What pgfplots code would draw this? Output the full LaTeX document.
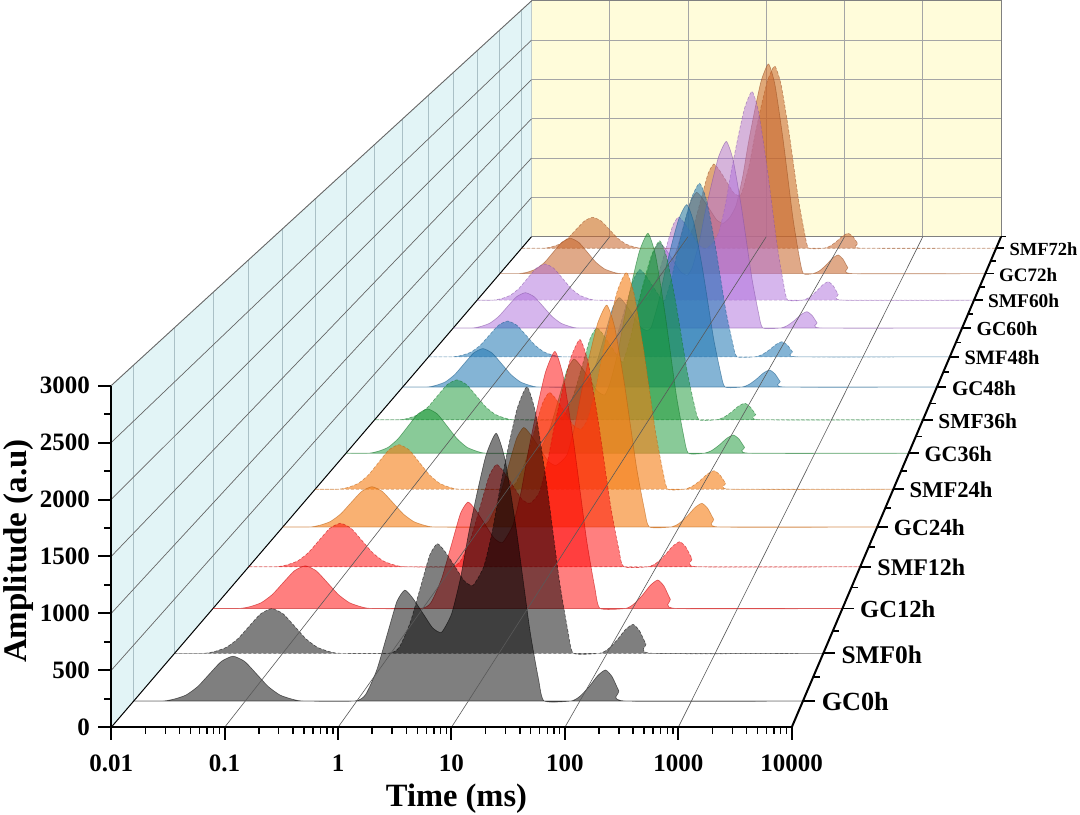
\documentclass[border=0pt]{standalone}
\usepackage{fontspec}
\setmainfont{Liberation Serif}
\usepackage{pgfplots}
\usepackage{pgfplotstable}
\pgfplotsset{compat=1.18}

\definecolor{cK}{RGB}{0,0,0}
\definecolor{cR}{RGB}{255,0,0}
\definecolor{cO}{RGB}{245,125,20}
\definecolor{cG}{RGB}{20,150,50}
\definecolor{cB}{RGB}{31,119,180}
\definecolor{cV}{RGB}{175,110,220}
\definecolor{cN}{RGB}{200,100,40}
\definecolor{wallL}{RGB}{226,244,246}
\definecolor{wallB}{RGB}{255,252,218}
\definecolor{gridL}{RGB}{170,192,198}
\definecolor{gridB}{RGB}{165,165,165}
\tikzset{dsh/.style={dash pattern=on 3bp off 2bp}}

% x column: log10(time / ms), a: amplitude (a.u.)
\pgfplotstableread{
lt a
-2 0
-1.74 0
-1.635 18
-1.53 54
-1.425 130
-1.32 243
-1.215 353
-1.11 400
-1.005 353
-0.90 243
-0.795 130
-0.69 54
-0.585 18
-0.48 0
-0.02 0
0.08 60
0.18 280
0.28 620
0.36 890
0.43 990
0.50 921
0.60 772
0.68 653
0.76 614
0.85 779
0.93 1099
1.00 1482
1.08 1864
1.16 2199
1.25 2390
1.33 2151
1.43 1530
1.55 645
1.63 191
1.68 0
1.92 0
2.00 42
2.08 125
2.16 227
2.23 277
2.29 216
2.35 89
2.41 0
4 0
}\rowA
\pgfplotstableread{
lt a
-2 0
-1.73 0
-1.625 18
-1.52 56
-1.415 134
-1.31 250
-1.205 363
-1.10 412
-0.995 363
-0.89 250
-0.785 134
-0.68 56
-0.575 18
-0.47 0
-0.02 0
0.08 60
0.18 285
0.28 630
0.36 905
0.43 1010
0.50 939
0.60 788
0.68 667
0.76 626
0.86 800
0.94 1129
1.01 1522
1.09 1915
1.17 2259
1.26 2455
1.34 2210
1.44 1571
1.56 663
1.64 196
1.69 0
1.93 0
2.01 40
2.09 120
2.17 219
2.24 267
2.30 208
2.36 85
2.42 0
4 0
}\rowB
\pgfplotstableread{
lt a
-2 0
-1.75 0
-1.645 18
-1.54 55
-1.435 132
-1.33 246
-1.225 357
-1.12 405
-1.015 357
-0.91 246
-0.805 132
-0.70 55
-0.595 18
-0.49 0
-0.02 0
0.08 60
0.18 285
0.28 630
0.36 905
0.43 1010
0.50 939
0.60 788
0.68 667
0.76 626
0.86 795
0.94 1122
1.01 1513
1.09 1903
1.17 2245
1.26 2440
1.34 2196
1.44 1562
1.56 659
1.64 195
1.69 0
1.93 0
2.01 41
2.09 122
2.17 221
2.24 270
2.30 211
2.36 86
2.42 0
4 0
}\rowC
\pgfplotstableread{
lt a
-2 0
-1.73 0
-1.625 19
-1.52 57
-1.415 138
-1.31 258
-1.205 375
-1.10 425
-0.995 375
-0.89 258
-0.785 138
-0.68 57
-0.575 19
-0.47 0
-0.02 0
0.08 60
0.18 280
0.28 620
0.36 890
0.43 1000
0.50 930
0.60 780
0.68 660
0.76 620
0.85 724
0.93 1021
1.00 1376
1.08 1732
1.16 2042
1.25 2220
1.33 1998
1.43 1421
1.55 599
1.63 178
1.68 0
1.92 0
2.00 37
2.08 110
2.16 201
2.23 245
2.29 191
2.35 78
2.41 0
4 0
}\rowD
\pgfplotstableread{
lt a
-2 0
-1.73 0
-1.625 18
-1.52 55
-1.415 132
-1.31 246
-1.205 357
-1.10 405
-0.995 357
-0.89 246
-0.785 132
-0.68 55
-0.575 18
-0.47 0
-0.02 0
0.08 60
0.18 280
0.28 620
0.36 890
0.43 1000
0.50 930
0.60 780
0.68 660
0.76 620
0.87 727
0.95 1026
1.02 1383
1.10 1739
1.18 2052
1.27 2230
1.35 2007
1.45 1427
1.57 602
1.65 178
1.70 0
1.92 0
2.00 36
2.08 107
2.16 195
2.23 238
2.29 186
2.35 76
2.41 0
4 0
}\rowE
\pgfplotstableread{
lt a
-2 0
-1.76 0
-1.655 20
-1.55 62
-1.445 150
-1.34 279
-1.235 406
-1.13 460
-1.025 406
-0.92 279
-0.815 150
-0.71 62
-0.605 20
-0.50 0
-0.02 0
0.08 60
0.18 280
0.28 620
0.36 890
0.43 1000
0.50 930
0.60 780
0.68 660
0.76 620
0.83 730
0.91 1030
0.98 1389
1.06 1747
1.14 2061
1.23 2240
1.31 2016
1.41 1434
1.53 605
1.61 179
1.66 0
1.83 0
1.91 29
1.99 86
2.07 157
2.14 191
2.20 149
2.26 61
2.32 0
4 0
}\rowF
\pgfplotstableread{
lt a
-2 0
-1.76 0
-1.655 21
-1.55 63
-1.445 153
-1.34 285
-1.235 415
-1.13 470
-1.025 415
-0.92 285
-0.815 153
-0.71 63
-0.605 21
-0.50 0
-0.02 0
0.08 60
0.18 280
0.28 620
0.36 890
0.43 1000
0.50 930
0.60 780
0.68 660
0.76 620
0.82 761
0.90 1074
0.97 1448
1.05 1821
1.13 2148
1.22 2335
1.30 2102
1.40 1494
1.52 630
1.60 187
1.65 0
1.82 0
1.90 29
1.98 87
2.06 158
2.13 193
2.19 151
2.25 62
2.31 0
4 0
}\rowG
\pgfplotstableread{
lt a
-2 0
-1.73 0
-1.625 19
-1.52 59
-1.415 141
-1.31 264
-1.205 384
-1.10 435
-0.995 384
-0.89 264
-0.785 141
-0.68 59
-0.575 19
-0.47 0
-0.02 0
0.08 60
0.18 280
0.28 620
0.36 890
0.43 1000
0.50 930
0.60 780
0.68 660
0.72 636
0.80 897
0.87 1209
0.95 1521
1.03 1794
1.12 1950
1.20 1755
1.30 1248
1.42 527
1.50 156
1.55 0
1.74 0
1.82 27
1.90 81
1.98 148
2.05 180
2.11 140
2.17 58
2.23 0
4 0
}\rowH
\pgfplotstableread{
lt a
-2 0
-1.73 0
-1.625 19
-1.52 58
-1.415 140
-1.31 261
-1.205 379
-1.10 430
-0.995 379
-0.89 261
-0.785 140
-0.68 58
-0.575 19
-0.47 0
-0.02 0
0.08 60
0.18 280
0.28 620
0.36 890
0.43 1000
0.50 930
0.60 780
0.68 660
0.74 635
0.79 665
0.87 938
0.94 1265
1.02 1591
1.10 1877
1.19 2040
1.27 1836
1.37 1306
1.49 551
1.57 163
1.62 0
1.81 0
1.89 29
1.97 86
2.05 156
2.12 190
2.18 148
2.24 61
2.30 0
4 0
}\rowI
\pgfplotstableread{
lt a
-2 0
-1.72 0
-1.615 18
-1.51 55
-1.405 133
-1.30 249
-1.195 362
-1.09 410
-0.985 362
-0.88 249
-0.775 133
-0.67 55
-0.565 18
-0.46 0
-0.02 0
0.08 60
0.18 280
0.28 620
0.36 890
0.43 1000
0.50 930
0.60 780
0.68 660
0.72 649
0.80 915
0.87 1234
0.95 1552
1.03 1831
1.12 1990
1.20 1791
1.30 1274
1.42 537
1.50 159
1.55 0
1.76 0
1.84 26
1.92 78
2.00 142
2.07 173
2.13 135
2.19 55
2.25 0
4 0
}\rowJ
\pgfplotstableread{
lt a
-2 0
-1.78 0
-1.675 18
-1.57 56
-1.465 135
-1.36 252
-1.255 366
-1.15 415
-1.045 366
-0.94 252
-0.835 135
-0.73 56
-0.625 18
-0.52 0
-0.02 0
0.08 60
0.18 280
0.28 620
0.36 890
0.43 1000
0.50 930
0.60 780
0.68 660
0.76 620
0.82 714
0.90 1007
0.97 1358
1.05 1708
1.13 2015
1.22 2190
1.30 1971
1.40 1402
1.52 591
1.60 175
1.65 0
1.86 0
1.94 29
2.02 86
2.10 157
2.17 191
2.23 149
2.29 61
2.35 0
4 0
}\rowK
\pgfplotstableread{
lt a
-2 0
-1.81 0
-1.705 19
-1.60 59
-1.495 141
-1.39 264
-1.285 384
-1.18 435
-1.075 384
-0.97 264
-0.865 141
-0.76 59
-0.655 19
-0.55 0
-0.02 0
0.08 60
0.18 280
0.28 620
0.36 890
0.43 1000
0.50 930
0.60 780
0.68 660
0.76 620
0.84 680
0.92 818
1.00 1155
1.07 1556
1.15 1958
1.23 2309
1.32 2510
1.40 2259
1.50 1606
1.62 678
1.70 201
1.75 0
1.93 0
2.01 33
2.09 100
2.17 182
2.24 222
2.30 173
2.36 71
2.42 0
4 0
}\rowL
\pgfplotstableread{
lt a
-2 0
-1.76 0
-1.655 19
-1.55 59
-1.445 141
-1.34 264
-1.235 384
-1.13 435
-1.025 384
-0.92 264
-0.815 141
-0.71 59
-0.605 19
-0.50 0
-0.02 0
0.08 60
0.18 280
0.28 620
0.36 890
0.43 1000
0.50 930
0.60 780
0.68 660
0.76 620
0.84 690
0.92 841
1.00 1187
1.07 1600
1.15 2012
1.23 2374
1.32 2580
1.40 2322
1.50 1651
1.62 697
1.70 206
1.75 0
1.87 0
1.95 34
2.03 103
2.11 188
2.18 229
2.24 179
2.30 73
2.36 0
4 0
}\rowM
\pgfplotstableread{
lt a
-2 0
-1.73 0
-1.625 17
-1.52 53
-1.415 127
-1.31 237
-1.205 344
-1.10 390
-0.995 344
-0.89 237
-0.785 127
-0.68 53
-0.575 17
-0.47 0
-0.02 0
0.08 65
0.18 300
0.28 660
0.36 945
0.43 1060
0.50 986
0.60 827
0.68 700
0.76 657
0.80 748
0.88 1056
0.95 1423
1.03 1790
1.11 2111
1.20 2295
1.28 2066
1.38 1469
1.50 620
1.58 184
1.63 0
1.82 0
1.90 28
1.98 85
2.06 155
2.13 189
2.19 147
2.25 60
2.31 0
4 0
}\rowN

% #1 table, #2 depth (0 front .. 1 back), #3 colour, #4 fill opacity, #5 extra
\newcommand\series[5]{%
  \addplot[smooth,tension=0.35,fill=#3,fill opacity=#4,draw=#3!75!black,
    draw opacity=0.55,line width=0.6bp,#5]
    table[x expr={PX(\thisrow{lt},#2)},y expr={PY(\thisrow{a},#2)}] {#1} -- cycle;}
\newcommand\tickfont{\fontsize{25bp}{30bp}\selectfont\bfseries}

\begin{document}
\begin{tikzpicture}[declare function={
  PX(\p,\q)=111.2+420.3*\q+(\p+2)*113.42*(1-0.31*\q);
  PY(\p,\q)=727.3-490.6*\q-\p*0.1139*(1-0.31*\q);}]
\begin{axis}[x=1bp,y=1bp,xmin=0,xmax=1080,ymin=0,ymax=815,y dir=reverse,
  hide axis,clip=false]
\fill[white] (axis cs:0,0) rectangle (axis cs:1080,815);
\coordinate (BL) at (axis cs:0,815);
\coordinate (TR) at (axis cs:1080,0);
% back wall
\fill[wallB] (axis cs:{PX(-2,1)},{PY(0,1)}) rectangle (axis cs:{PX(4,1)},{PY(3000,1)});
\draw[gridB,line width=0.8bp] foreach \d in {-1,0,1,2,3} {(axis cs:{PX(\d,1)},{PY(0,1)}) -- (axis cs:{PX(\d,1)},{PY(3000,1)})};
\draw[gridB,line width=0.8bp] foreach \z in {500,1000,...,2500} {(axis cs:{PX(-2,1)},{PY(\z,1)}) -- (axis cs:{PX(4,1)},{PY(\z,1)})};
\draw[gray,line width=0.9bp] (axis cs:{PX(-2,1)},{PY(0,1)}) rectangle (axis cs:{PX(4,1)},{PY(3000,1)});
% left wall
\fill[wallL] (axis cs:{PX(-2,0)},{PY(0,0)}) -- (axis cs:{PX(-2,0)},{PY(3000,0)}) -- (axis cs:{PX(-2,1)},{PY(3000,1)}) -- (axis cs:{PX(-2,1)},{PY(0,1)}) -- cycle;
\draw[gridL,line width=0.8bp] foreach \m in {0.0536,0.1508,0.2422,0.3272,0.4083,0.4853,0.5587,0.6268,0.6936,0.7552,0.8139,0.8706,0.9248,0.9764} {(axis cs:{PX(-2,\m)},{PY(0,\m)}) -- (axis cs:{PX(-2,\m)},{PY(3000,\m)})};
\draw[gray!80!black,line width=0.7bp] foreach \z in {500,1000,...,2500} {(axis cs:{PX(-2,0)},{PY(\z,0)}) -- (axis cs:{PX(-2,1)},{PY(\z,1)})};
\draw[gray!80!black,line width=0.9bp] (axis cs:{PX(-2,0)},{PY(3000,0)}) -- (axis cs:{PX(-2,1)},{PY(3000,1)});
\draw[black,line width=1bp] (axis cs:{PX(-2,0)},{PY(0,0)}) -- (axis cs:{PX(-2,1)},{PY(0,1)});
% series, back to front
\series{\rowN}{0.9764}{cN}{0.55}{dsh}
\series{\rowM}{0.9248}{cN}{0.55}{}
\series{\rowL}{0.8706}{cV}{0.5}{dsh}
\series{\rowK}{0.8139}{cV}{0.5}{}
\series{\rowJ}{0.7552}{cB}{0.55}{dsh}
\series{\rowI}{0.6936}{cB}{0.55}{}
\series{\rowH}{0.6268}{cG}{0.5}{dsh}
\series{\rowG}{0.5587}{cG}{0.5}{}
\series{\rowF}{0.4853}{cO}{0.6}{dsh}
\series{\rowE}{0.4083}{cO}{0.6}{}
\series{\rowD}{0.3272}{cR}{0.5}{dsh}
\series{\rowC}{0.2422}{cR}{0.5}{}
\series{\rowB}{0.1508}{cK}{0.5}{dsh}
\series{\rowA}{0.0536}{cK}{0.5}{}
% floor grid
\draw[black!65,line width=0.6bp] foreach \d in {-1,0,1,2,3} {(axis cs:{PX(\d,0)},{PY(0,0)}) -- (axis cs:{PX(\d,1)},{PY(0,1)})};
% axes
\draw[black,line width=2bp] (axis cs:{PX(-2,0)},{PY(0,0)}) -- (axis cs:{PX(4,0)},{PY(0,0)});
\draw[black,line width=2bp] (axis cs:{PX(-2,0)},{PY(0,0)}) -- (axis cs:{PX(-2,0)},{PY(3000,0)});
\draw[black,line width=2bp] (axis cs:{PX(4,0)},{PY(0,0)}) -- (axis cs:{PX(4,1)},{PY(0,1)});
% x ticks
\draw[black,line width=2bp] foreach \d in {-2,-1,0,1,2,3,4} {(axis cs:{PX(\d,0)},{PY(0,0)}) -- ++(0,-13bp)};
\draw[black,line width=1.5bp] foreach \d in {-2,-1,0,1,2,3} {foreach \k in {2,...,9} {(axis cs:{PX(\d+log10(\k),0)},{PY(0,0)}) -- ++(0,-7bp)}};
\path foreach \d/\t in {-2/0.01,-1/0.1,0/1,1/10,2/100,3/1000,4/10000} {node[anchor=base,font=\tickfont,inner sep=0pt] at (axis cs:{PX(\d,0)},771.5) {\t}};
% z ticks
\draw[black,line width=2bp] foreach \z in {0,500,...,3000} {(axis cs:{PX(-2,0)},{PY(\z,0)}) -- ++(-13bp,0)};
\draw[black,line width=1.5bp] foreach \z in {250,750,...,2750} {(axis cs:{PX(-2,0)},{PY(\z,0)}) -- ++(-7bp,0)};
\path foreach \z in {0,500,...,3000} {node[anchor=east,font=\tickfont,inner sep=0pt] at (axis cs:90,{PY(\z,0)}) {\z}};
% depth ticks and labels
\draw[black,line width=1.8bp] foreach \m in {0.0536,0.1508,0.2422,0.3272,0.4083,0.4853,0.5587,0.6268,0.6936,0.7552,0.8139,0.8706,0.9248,0.9764} {(axis cs:{PX(4,\m)},{PY(0,\m)}) -- (axis cs:{PX(4,\m)+12*(1-0.31*\m)},{PY(0,\m)})};
\draw[black,line width=1.5bp] foreach \m in {0.1022,0.1965,0.2847,0.3678,0.4468,0.5220,0.5928,0.6602,0.7244,0.7846,0.8423,0.8977,0.9506,1} {(axis cs:{PX(4,\m)},{PY(0,\m)}) -- (axis cs:{PX(4,\m)+7*(1-0.31*\m)},{PY(0,\m)})};
\path foreach \m/\s/\n in {0.0536/26.2/GC0h,0.1508/25.4/SMF0h,0.2422/24.6/GC12h,0.3272/23.9/SMF12h,0.4083/23.2/GC24h,0.4853/22.6/SMF24h,0.5587/22.0/GC36h,0.6268/21.4/SMF36h,0.6936/20.9/GC48h,0.7552/20.4/SMF48h,0.8139/19.9/GC60h,0.8706/19.4/SMF60h,0.9248/19.0/GC72h,0.9764/18.5/SMF72h} {node[anchor=west,inner sep=0pt,font=\fontsize{\s bp}{\s bp}\selectfont\bfseries] at (axis cs:{PX(4,\m)+19*(1-0.31*\m)},{PY(0,\m)+1}) {\n}};
% axis titles
\node[anchor=base,inner sep=0pt,font=\fontsize{32.5bp}{36bp}\selectfont\bfseries] at (axis cs:456.5,806) {Time (ms)};
\node[anchor=base,rotate=90,inner sep=0pt,font=\fontsize{33bp}{36bp}\selectfont\bfseries] at (axis cs:26,551) {Amplitude (a.u)};
\end{axis}
\pgfresetboundingbox
\path (BL) rectangle (TR);
\end{tikzpicture}
\end{document}
